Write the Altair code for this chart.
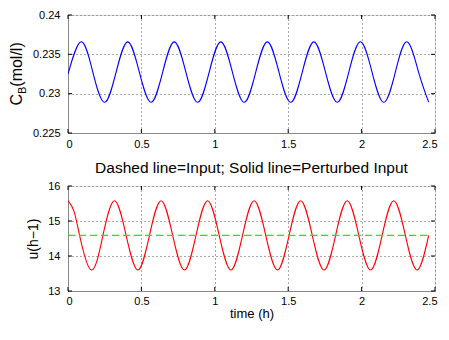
import altair as alt
import pandas as pd

# ---------------- data ----------------
time_cb = [0.000, 0.090, 0.169, 0.249, 0.328, 0.407, 0.486, 0.566, 0.645,
           0.724, 0.803, 0.883, 0.962, 1.041, 1.120, 1.200, 1.279, 1.358,
           1.437, 1.517, 1.596, 1.675, 1.754, 1.834, 1.913, 1.992, 2.071,
           2.151, 2.230, 2.309, 2.388, 2.457]
cb_values = [0.2325,
             0.23659, 0.23275, 0.22890, 0.23275,
             0.23659, 0.23275, 0.22890, 0.23275,
             0.23659, 0.23275, 0.22890, 0.23275,
             0.23659, 0.23275, 0.22890, 0.23275,
             0.23659, 0.23275, 0.22890, 0.23275,
             0.23659, 0.23275, 0.22890, 0.23275,
             0.23659, 0.23275, 0.22890, 0.23275,
             0.23659, 0.23275, 0.22892]

time_u = [0.000, 0.040, 0.079, 0.159, 0.238, 0.317, 0.396, 0.476, 0.555,
          0.634, 0.713, 0.793, 0.872, 0.951, 1.030, 1.110, 1.189, 1.268,
          1.347, 1.427, 1.506, 1.585, 1.664, 1.744, 1.823, 1.902, 1.981,
          2.061, 2.140, 2.219, 2.298, 2.378, 2.457]
u_perturbed = [15.58, 15.29, 14.59, 13.60, 14.59,
               15.58, 14.59, 13.60, 14.59,
               15.58, 14.59, 13.60, 14.59,
               15.58, 14.59, 13.60, 14.59,
               15.58, 14.59, 13.60, 14.59,
               15.58, 14.59, 13.60, 14.59,
               15.58, 14.59, 13.60, 14.59,
               15.58, 14.59, 13.60, 14.59]

time_input = [0.0, 2.457]
u_input = [14.59, 14.59]

x_ticks = [0, 0.5, 1, 1.5, 2, 2.5]
cb_ticks = [0.225, 0.23, 0.235, 0.24]
u_ticks = [13, 14, 15, 16]

top_ytitle_parts = ["C", "B", "(mol/l)"]
bottom_ytitle = "u(h\u22121)"
bottom_xtitle = "time (h)"
bottom_title = "Dashed line=Input; Solid line=Perturbed Input"

# ---------------- styling ----------------
FONT = "Liberation Sans"
LFONT = "Liberation Sans Narrow, Liberation Sans"
W = 367
H_TOP = 118
H_BOT = 105
TICK = 4
LBL = 11
GRID = dict(grid=True, gridColor="#555555", gridDash=[1, 3], gridWidth=1)

xscale = alt.Scale(domain=[0, 2.5], nice=False, zero=False)
cbscale = alt.Scale(domain=[0.225, 0.24], nice=False, zero=False)
uscale = alt.Scale(domain=[13, 16], nice=False, zero=False)

XKW = dict(values=x_ticks, format="~g", ticks=False, labelFontSize=LBL,
           labelOverlap=False, labelFlush=True, labelFlushOffset=2, **GRID)
XAX_TOP = alt.Axis(title=None, labelPadding=5, **XKW)
XAX_BOT = alt.Axis(title=bottom_xtitle, titleFontSize=13, titleFontWeight="normal",
                   titlePadding=1, labelPadding=4, **XKW)
YAX_TOP = alt.Axis(title=None, values=cb_ticks, format="~g", ticks=False,
                   labelPadding=8, labelFontSize=LBL, labelOverlap=False, **GRID)
YAX_BOT = alt.Axis(title=bottom_ytitle, titleFontSize=14, titleFontWeight="normal",
                   titlePadding=7, values=u_ticks, format="~g", ticks=False,
                   labelPadding=8, labelFontSize=LBL, labelOverlap=False, **GRID)


def inner_ticks(yfield, yscale, yvalues, height, xax, yax):
    xt = pd.DataFrame({"t": x_ticks})
    yt = pd.DataFrame({yfield: yvalues})
    rule = dict(color="black", strokeWidth=1)
    xb = alt.Chart(xt).mark_rule(**rule).encode(
        x=alt.X("t:Q", scale=xscale, axis=xax),
        y=alt.value(height - TICK), y2=alt.value(height))
    xtp = alt.Chart(xt).mark_rule(**rule).encode(
        x=alt.X("t:Q", scale=xscale, axis=xax),
        y=alt.value(0), y2=alt.value(TICK))
    yl = alt.Chart(yt).mark_rule(**rule).encode(
        y=alt.Y(f"{yfield}:Q", scale=yscale, axis=yax),
        x=alt.value(0), x2=alt.value(TICK))
    yr = alt.Chart(yt).mark_rule(**rule).encode(
        y=alt.Y(f"{yfield}:Q", scale=yscale, axis=yax),
        x=alt.value(W - TICK), x2=alt.value(W))
    return [xb, xtp, yl, yr]


# ---------------- top panel ----------------
cb_df = pd.DataFrame({"t": time_cb, "cb": cb_values})
top_line = alt.Chart(cb_df).mark_line(
    color="#0000ff", strokeWidth=1.1, interpolate="natural", clip=True
).encode(
    x=alt.X("t:Q", scale=xscale, axis=XAX_TOP),
    y=alt.Y("cb:Q", scale=cbscale, axis=YAX_TOP),
)

txt = dict(angle=270, align="left", baseline="alphabetic", font=FONT, color="black")
t_c = alt.Chart(pd.DataFrame({"s": [top_ytitle_parts[0]]})).mark_text(
    fontSize=16, **txt).encode(text="s:N", x=alt.value(-46), y=alt.value(90.6))
t_b = alt.Chart(pd.DataFrame({"s": [top_ytitle_parts[1]]})).mark_text(
    fontSize=11, **txt).encode(text="s:N", x=alt.value(-42), y=alt.value(79))
t_rest = alt.Chart(pd.DataFrame({"s": [top_ytitle_parts[2]]})).mark_text(
    fontSize=16, **txt).encode(text="s:N", x=alt.value(-46), y=alt.value(71.7))

top = alt.layer(
    top_line, *inner_ticks("cb", cbscale, cb_ticks, H_TOP, XAX_TOP, YAX_TOP),
    t_c, t_b, t_rest
).properties(width=W, height=H_TOP)

# ---------------- bottom panel ----------------
u_df = pd.DataFrame({"t": time_u, "u": u_perturbed})
in_df = pd.DataFrame({"t": time_input, "u": u_input})

u_line = alt.Chart(u_df).mark_line(
    color="#ff0000", strokeWidth=1.1, interpolate="natural", clip=True
).encode(
    x=alt.X("t:Q", scale=xscale, axis=XAX_BOT),
    y=alt.Y("u:Q", scale=uscale, axis=YAX_BOT),
)
in_line = alt.Chart(in_df).mark_line(
    color="#00ff00", strokeWidth=1.4, strokeDash=[7, 4]
).encode(x=alt.X("t:Q", scale=xscale, axis=XAX_BOT),
         y=alt.Y("u:Q", scale=uscale, axis=YAX_BOT))

bottom = alt.layer(
    u_line, in_line, *inner_ticks("u", uscale, u_ticks, H_BOT, XAX_BOT, YAX_BOT)
).properties(
    width=W, height=H_BOT,
    title=alt.TitleParams(text=bottom_title, fontSize=15.5, font=FONT,
                          fontWeight="normal", color="black", offset=4,
                          anchor="middle"),
)

chart = alt.vconcat(top, bottom, spacing=10).properties(
    padding={"left": 0, "top": 0, "right": 0, "bottom": 0}
).configure_view(
    stroke="black", strokeWidth=1
).configure_axis(
    labelFont=LFONT, titleFont=FONT, labelColor="black", titleColor="black",
    domainColor="black", domainWidth=1
).configure(background="white")

chart.save("out.html", embed_options={"renderer": "svg", "actions": False})
